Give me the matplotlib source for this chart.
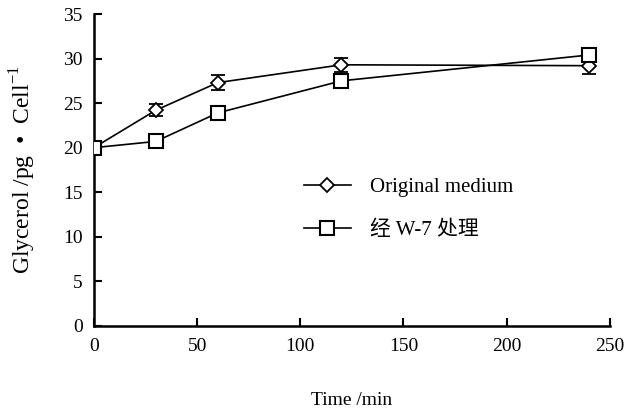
import matplotlib
matplotlib.use("Agg")
import matplotlib.pyplot as plt

time_min = [0, 30, 60, 120, 240]
original = [20.0, 24.2, 27.3, 29.3, 29.2]
original_err = [0.0, 0.7, 0.8, 0.8, 0.9]
w7 = [20.0, 20.7, 23.9, 27.5, 30.4]
w7_err = [0.0, 0.0, 0.0, 0.5, 0.5]
labels = ["Original medium", "经 W-7 处理"]
xticks = [0, 50, 100, 150, 200, 250]
yticks = [0, 5, 10, 15, 20, 25, 30, 35]

plt.rcParams['font.family'] = ['Liberation Serif', 'Noto Sans CJK SC']
plt.rcParams['mathtext.fontset'] = 'custom'
plt.rcParams['mathtext.rm'] = 'Liberation Serif'

fig = plt.figure(figsize=(6.26, 4.12), dpi=100)
ax = fig.add_axes([0.150, 0.209, 0.824, 0.757])

ax.errorbar(time_min, original, yerr=original_err, color='black', lw=1.2,
            marker='D', ms=7, mfc='white', mec='black', mew=1.3,
            capsize=5, elinewidth=1.3, capthick=1.5, label=labels[0], zorder=3)
ax.errorbar(time_min, w7, yerr=w7_err, color='black', lw=1.2,
            marker='s', ms=10, mfc='white', mec='black', mew=1.5,
            capsize=5, elinewidth=1.3, capthick=1.5, label=labels[1], zorder=4)

ax.set_xlim(0, 250)
ax.set_ylim(0, 35)
ax.set_xticks(xticks)
ax.set_yticks(yticks)
ax.tick_params(direction='in', length=6, width=1.5, labelsize=14)
ax.tick_params(axis='x', pad=9)
ax.tick_params(axis='y', pad=8)
for s in ['top', 'right']:
    ax.spines[s].set_visible(False)
for s in ['left', 'bottom']:
    ax.spines[s].set_linewidth(1.8)

ax.set_xlabel("Time /min", fontsize=14, labelpad=26)
ax.set_ylabel("Glycerol /pg  •  Cell$^{-1}$", fontsize=17, labelpad=18)

handles, labs = ax.get_legend_handles_labels()
handles = [h[0] for h in handles]
leg = ax.legend(handles, labs, loc='upper left', bbox_to_anchor=(0.37, 0.535),
                frameon=False, fontsize=15, handlelength=2.3, labelspacing=1.1,
                handletextpad=0.9)

fig.savefig("out.png", dpi=100)
